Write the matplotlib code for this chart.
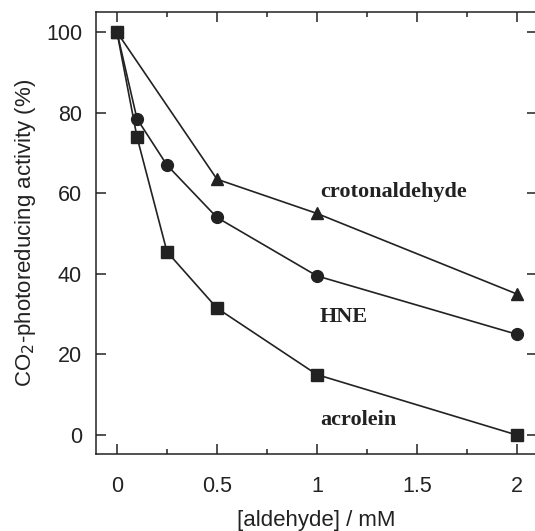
import numpy as np
import matplotlib
matplotlib.use("Agg")
import matplotlib.pyplot as plt
from matplotlib.ticker import MultipleLocator

# ------------------------------------------------------------
# data
# ------------------------------------------------------------
x_acrolein = [0, 0.1, 0.25, 0.5, 1, 2]
y_acrolein = [100, 74, 45.5, 31.5, 15, 0]

x_hne = [0, 0.1, 0.25, 0.5, 1, 2]
y_hne = [100, 78.5, 67, 54, 39.5, 25]

x_croton = [0, 0.5, 1, 2]
y_croton = [100, 63.5, 55, 35]

xticks = [0, 0.5, 1, 1.5, 2]
xtick_labels = ["0", "0.5", "1", "1.5", "2"]
yticks = [0, 20, 40, 60, 80, 100]

# ------------------------------------------------------------
# plot
# ------------------------------------------------------------
plt.rcParams['font.family'] = ['Liberation Sans', 'DejaVu Sans']
ink = '#222222'

fig = plt.figure(figsize=(5.35, 5.31), dpi=100)
ax = fig.add_axes([0.1794, 0.145, 0.8243, 0.8324])

ax.plot(x_croton, y_croton, color=ink, lw=1.2, marker='^', ms=9, mec=ink, mfc=ink)
ax.plot(x_hne, y_hne, color=ink, lw=1.2, marker='o', ms=8.5, mec=ink, mfc=ink)
ax.plot(x_acrolein, y_acrolein, color=ink, lw=1.2, marker='s', ms=9.3, mec=ink, mfc=ink)

ax.set_xlim(-0.105, 2.1)
ax.set_ylim(-4.7, 105)
ax.set_xticks(xticks)
ax.set_xticklabels(xtick_labels)
ax.set_yticks(yticks)
ax.xaxis.set_minor_locator(MultipleLocator(0.25))

ax.tick_params(which='both', direction='in', top=True, right=True,
               color=ink, labelcolor=ink, labelsize=15.5, width=1.1)
ax.tick_params(which='major', length=7.5)
ax.tick_params(which='minor', length=3.8)
ax.tick_params(axis='x', which='major', pad=16)
ax.tick_params(axis='y', which='major', pad=10)
for s in ax.spines.values():
    s.set_color(ink)
    s.set_linewidth(1.1)

ax.set_xlabel("[aldehyde] / mM", fontsize=16, color=ink, labelpad=9)
ax.set_ylabel("CO$_2$-photoreducing activity (%)", fontsize=16, color=ink, labelpad=6)

lbl = dict(family='Liberation Serif', fontweight='bold', fontsize=16,
           color=ink, va='center', ha='left')
ax.text(1.015, 60.3, "crotonaldehyde", **lbl)
ax.text(1.015, 29.3, "HNE", **lbl)
ax.text(1.015, 3.7, "acrolein", **lbl)

fig.savefig("out.png", dpi=100)
